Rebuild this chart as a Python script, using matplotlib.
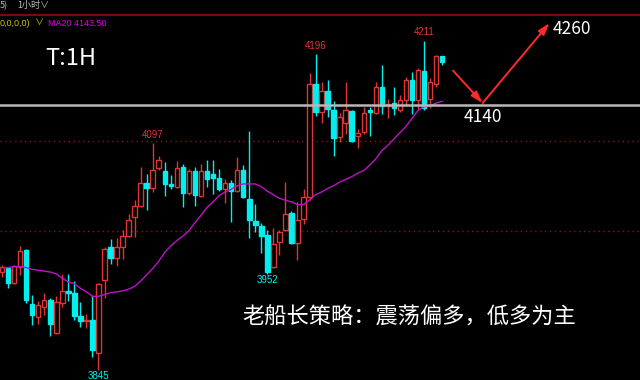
import matplotlib

matplotlib.use("Agg")
import matplotlib.pyplot as plt
from matplotlib.lines import Line2D
from matplotlib.patches import Rectangle

plt.rcParams["font.family"] = ["Noto Sans CJK SC", "DejaVu Sans"]

# hourly candles (oldest first)
OPEN = [3954, 3958, 3942, 3960, 3978, 3918, 3904, 3915, 3923, 3886,
        3920, 3933, 3931, 3905, 3900, 3901, 3864, 3945, 3982, 3970,
        3982, 3994, 4015, 4027, 4053, 4048, 4070, 4066, 4052, 4049,
        4071, 4042, 4066, 4039, 4066, 4063, 4059, 4046, 4053, 4044,
        4067, 4035, 4011, 4005, 3995, 3960, 3987, 4001, 4020, 3986,
        4013, 4038, 4163, 4132, 4155, 4134, 4104, 4120, 4133, 4105,
        4110, 4134, 4131, 4160, 4139, 4142, 4134, 4145, 4168, 4145,
        4178, 4146, 4163, 4194]
HIGH = [3962, 3960, 3962, 3983, 3980, 3928, 3922, 3931, 3925, 3927,
        3952, 3952, 3944, 3921, 3907, 3927, 3942, 3982, 3991, 3992,
        4001, 4018, 4034, 4071, 4063, 4097, 4083, 4076, 4062, 4077,
        4074, 4069, 4071, 4074, 4079, 4079, 4069, 4058, 4056, 4082,
        4073, 4111, 4030, 4008, 4001, 4003, 4001, 4054, 4022, 4032,
        4046, 4175, 4196, 4165, 4168, 4144, 4131, 4165, 4134, 4113,
        4138, 4138, 4165, 4184, 4147, 4160, 4151, 4171, 4176, 4181,
        4211, 4170, 4195, 4194]
LOW = [3948, 3936, 3941, 3951, 3920, 3895, 3896, 3906, 3883, 3885,
       3915, 3922, 3901, 3893, 3892, 3859, 3845, 3925, 3963, 3961,
       3968, 3993, 3993, 4026, 4023, 4043, 4067, 4039, 4046, 4047,
       4026, 4040, 4027, 4038, 4049, 4041, 4044, 4031, 4010, 4043,
       4036, 3992, 3998, 3975, 3952, 3959, 3973, 4000, 3985, 3967,
       4007, 4034, 4128, 4120, 4126, 4083, 4099, 4108, 4099, 4092,
       4108, 4105, 4130, 4130, 4125, 4129, 4132, 4140, 4130, 4134,
       4134, 4136, 4160, 4184]
CLOSE = [3960, 3942, 3961, 3977, 3923, 3906, 3917, 3923, 3896, 3921,
         3933, 3931, 3905, 3900, 3901, 3867, 3941, 3980, 3970, 3982,
         3994, 4012, 4027, 4053, 4048, 4068, 4079, 4052, 4050, 4070,
         4042, 4066, 4040, 4066, 4058, 4059, 4046, 4053, 4044, 4067,
         4037, 4012, 4006, 3994, 3954, 3985, 3998, 4019, 3986, 4012,
         4038, 4163, 4132, 4155, 4135, 4103, 4126, 4134, 4100, 4109,
         4131, 4132, 4160, 4139, 4141, 4137, 4145, 4168, 4145, 4179,
         4136, 4165, 4194, 4188]
MA20 = [3959, 3959, 3960, 3960, 3959, 3957, 3956, 3955, 3954, 3952,
        3947, 3943, 3941, 3936, 3932, 3927, 3927, 3929, 3931, 3932,
        3933, 3935, 3938, 3944, 3951, 3958, 3966, 3976, 3983, 3989,
        3994, 4000, 4009, 4017, 4026, 4032, 4039, 4043, 4046, 4050,
        4052, 4052, 4052, 4049, 4044, 4040, 4036, 4034, 4032, 4029,
        4029, 4034, 4040, 4043, 4047, 4050, 4054, 4057, 4060, 4064,
        4067, 4073, 4080, 4089, 4095, 4102, 4109, 4116, 4125, 4134,
        4138, 4139, 4142, 4144]

GRID_LEVELS = [4100, 4000]
SUPPORT = 4140
TARGET = 4260
# labelled extremes: (candle index, price, above/below)
EXTREMES = [(25, 4097, "up"), (52, 4196, "up"), (70, 4211, "up"),
            (44, 3952, "down"), (16, 3845, "down")]
# projected path: down to support, then up towards the target
PATH_X = [74.8, 79.7, 90.8]
PATH_Y = [4178, 4142, 4231]

RED = "#e03535"
CYAN = "#00f0f0"


def main() -> None:
    fig = plt.figure(figsize=(6.4, 3.8), dpi=100, facecolor="black")
    ax = fig.add_axes([0, 0, 1, 1], facecolor="black")
    ax.set_xlim(-0.33, 105.8)
    ax.set_ylim(3833.9, 4256.6)
    ax.axis("off")

    for lvl in GRID_LEVELS:
        ax.axhline(lvl, color="#8a1515", lw=1, ls=(0, (1, 2.5)), zorder=1)

    for i, (o, h, l, c) in enumerate(zip(OPEN, HIGH, LOW, CLOSE)):
        up = c >= o
        col = RED if up else CYAN
        ax.vlines(i, l, h, color=col, lw=1, zorder=2)
        body = Rectangle(
            (i - 0.38, min(o, c)), 0.76, max(abs(c - o), 0.9),
            facecolor="black" if up else col, edgecolor=col, lw=1, zorder=3,
        )
        ax.add_patch(body)

    ax.plot(range(len(MA20)), MA20, color="#c010c8", lw=1, zorder=4)
    ax.axhline(SUPPORT, color="#b8b8b8", lw=1.8, zorder=5)

    for i, price, side in EXTREMES:
        col = RED if side == "up" else CYAN
        dy = 4 if side == "up" else -1.5
        ax.text(i, price + dy, str(price), color=col, fontsize=7,
                family="Liberation Sans", ha="center",
                va="bottom" if side == "up" else "top", zorder=6)

    arrow = dict(arrowstyle="-|>,head_length=0.7,head_width=0.22",
                 color="#ff2a2a", lw=1.4, shrinkA=0, shrinkB=0)
    ax.annotate("", xy=(PATH_X[1], PATH_Y[1]), xytext=(PATH_X[0], PATH_Y[0]),
                arrowprops=arrow, zorder=7)
    ax.annotate("", xy=(PATH_X[2], PATH_Y[2]), xytext=(PATH_X[1], PATH_Y[1]),
                arrowprops=arrow, zorder=7)

    ax.text(79.7, SUPPORT - 13.5, str(SUPPORT), color="white", fontsize=12.5,
            ha="center", va="center")
    ax.text(94.5, 4224, str(TARGET), color="white", fontsize=12.5,
            ha="center", va="center")
    ax.text(7.2, 4191, "T:1H", color="white", fontsize=17, va="center")
    ax.text(67.6, 3904, "老船长策略：震荡偏多，低多为主", color="white",
            fontsize=16, ha="center", va="center")

    # header strip of the trading terminal
    fig.add_artist(Line2D([0, 1], [0.961, 0.961], color="#7a0a0a", lw=1.5,
                          transform=fig.transFigure))
    fig.text(0.0, 0.985, "5)", color="#c0c0c0", fontsize=6.5, va="center")
    fig.text(0.027, 0.985, "1小时∨", color="#c0c0c0", fontsize=6.5, va="center")
    fig.text(0.0, 0.939, "0,0,0,0)", color="#c8c800", fontsize=6.5,
             family="Liberation Sans", va="center")
    fig.text(0.055, 0.939, "∨", color="#c8c800", fontsize=6.5, va="center")
    fig.text(0.075, 0.939, "MA20 4143.50", color="#e000e0", fontsize=6.5,
             family="Liberation Sans", va="center")

    fig.savefig("out.png", dpi=100, facecolor="black")


if __name__ == "__main__":
    main()
